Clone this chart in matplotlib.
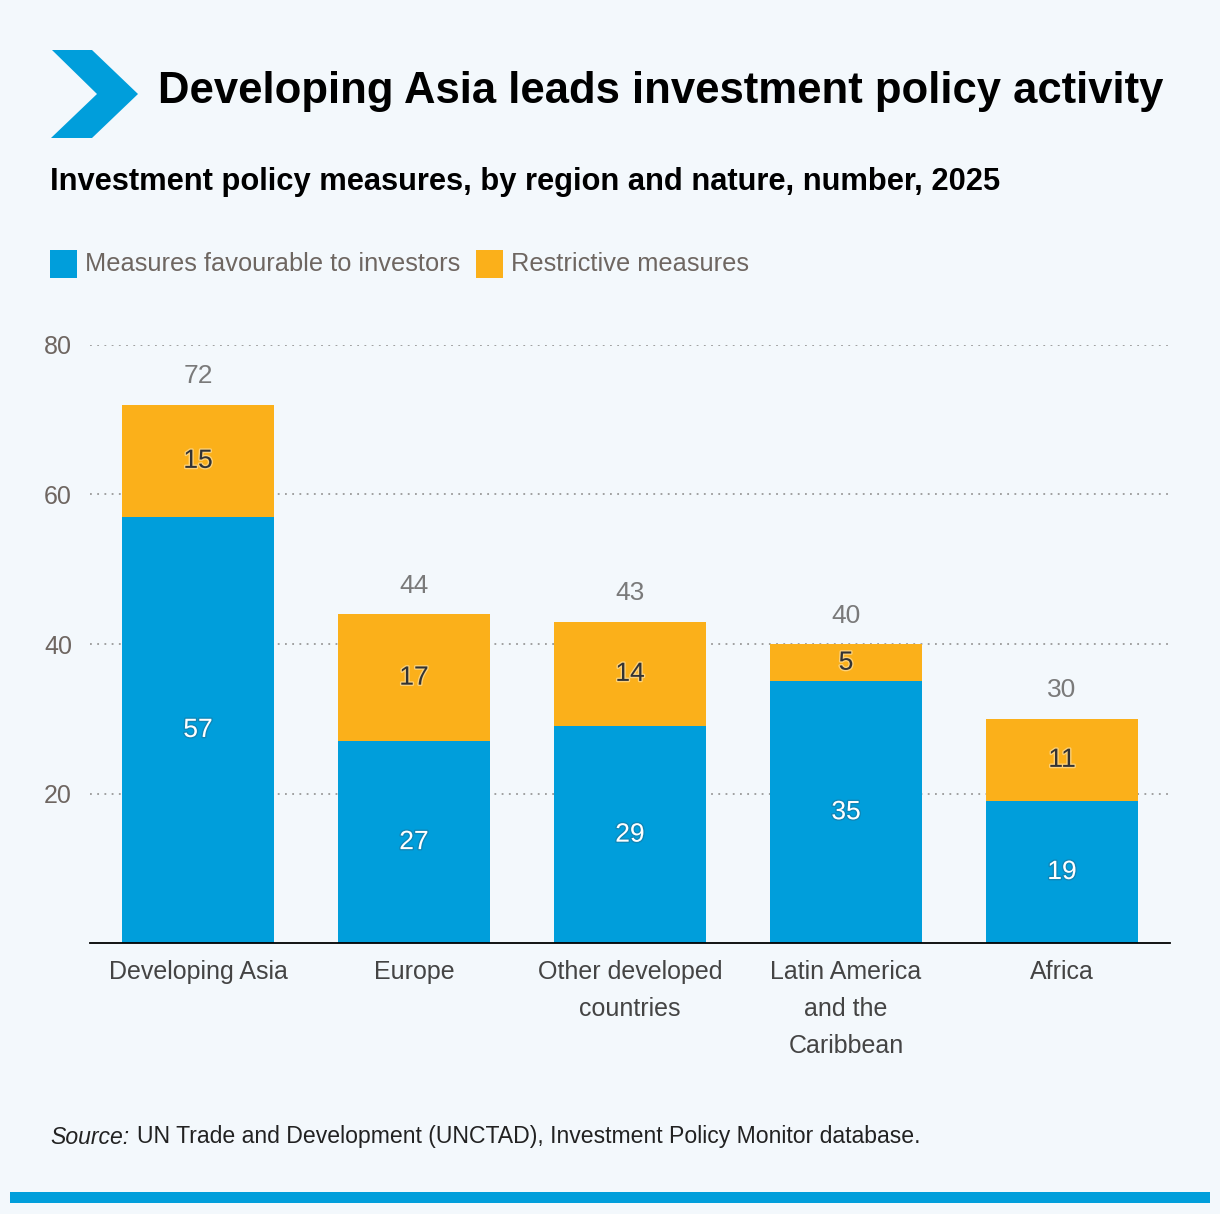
import matplotlib
matplotlib.use("Agg")
import matplotlib.pyplot as plt
import matplotlib.patheffects as pe
from matplotlib.patches import Polygon, Rectangle

regions = ["Developing Asia", "Europe", "Other developed\ncountries",
           "Latin America\nand the\nCaribbean", "Africa"]
favourable = [57, 27, 29, 35, 19]
restrictive = [15, 17, 14, 5, 11]
totals = [72, 44, 43, 40, 30]
yticks = [20, 40, 60, 80]

blue = "#009edb"
orange = "#fbb01a"
bg = "#f3f8fc"
grey = "#6e6661"
sans = "Liberation Sans"

W, H = 1220, 1214
fig = plt.figure(figsize=(W / 100, H / 100), dpi=100, facecolor=bg)

# overlay in pixel coordinates for header / footer decorations
ov = fig.add_axes([0, 0, 1, 1])
ov.set_xlim(0, W)
ov.set_ylim(H, 0)
ov.axis("off")
ov.add_patch(Polygon([(52, 50), (92, 50), (138, 94), (92, 138), (51, 138), (97, 94)],
                     closed=True, color=blue, lw=0))
ov.text(158, 92, "Developing Asia leads investment policy activity", fontsize=31.4,
        fontweight="bold", family=sans, va="center", ha="left", color="black")
ov.text(50, 182, "Investment policy measures, by region and nature, number, 2025",
        fontsize=22.2, fontweight="bold", family=sans, va="center", ha="left", color="black")
ov.add_patch(Rectangle((50, 250), 27, 28, color=blue, lw=0))
ov.text(85, 264, "Measures favourable to investors", fontsize=18.3, family=sans,
        va="center", ha="left", color=grey)
ov.add_patch(Rectangle((476, 250), 27, 28, color=orange, lw=0))
ov.text(511, 264, "Restrictive measures", fontsize=18.3, family=sans,
        va="center", ha="left", color=grey)
ov.text(50, 1137, "Source:", fontsize=16.6, family=sans, style="italic",
        va="center", ha="left", color="#222222")
ov.text(137, 1137, "UN Trade and Development (UNCTAD), Investment Policy Monitor database.",
        fontsize=16.6, family=sans, va="center", ha="left", color="#222222")
ov.add_patch(Rectangle((10, 1192), 1200, 11, color=blue, lw=0))

ax = fig.add_axes([90 / W, (H - 943) / H, 1080 / W, 598 / H])
ax.set_facecolor("none")
x = range(len(regions))
ax.bar(x, favourable, width=0.7, color=blue, zorder=3)
ax.bar(x, restrictive, width=0.7, bottom=favourable, color=orange, zorder=3)

for i in x:
    ax.text(i, favourable[i] / 2, str(favourable[i]), ha="center", va="center",
            fontsize=19, family=sans, color="white", zorder=4,
            path_effects=[pe.withStroke(linewidth=2, foreground="#2a5a76", alpha=0.35)])
    ax.text(i, favourable[i] + restrictive[i] / 2, str(restrictive[i]), ha="center",
            va="center", fontsize=19, family=sans, color="#333333", zorder=4,
            path_effects=[pe.withStroke(linewidth=2, foreground="#fff3d6", alpha=0.5)])
    ax.text(i, totals[i] + 2.2, str(totals[i]), ha="center", va="bottom",
            fontsize=19, family=sans, color="#7a7a7a", zorder=4)

ax.set_xlim(-0.5, 4.5)
ax.set_ylim(0, 80)
ax.set_yticks(yticks)
ax.set_yticklabels([str(v) for v in yticks], fontsize=18, family=sans, color=grey)
ax.set_xticks(list(x))
ax.set_xticklabels(regions, fontsize=18, family=sans, color="#444444", linespacing=1.7)
ax.tick_params(axis="y", length=0, pad=13)
ax.tick_params(axis="x", length=0, pad=12)
for v in yticks:
    ax.axhline(v, color="#999999", lw=1.3, ls=(0, (1, 3)), zorder=1)
for s in ["top", "right", "left"]:
    ax.spines[s].set_visible(False)
ax.spines["bottom"].set_color("black")
ax.spines["bottom"].set_linewidth(1.3)
ax.spines["bottom"].set_zorder(5)

fig.savefig("out.png", dpi=100, facecolor=bg)
